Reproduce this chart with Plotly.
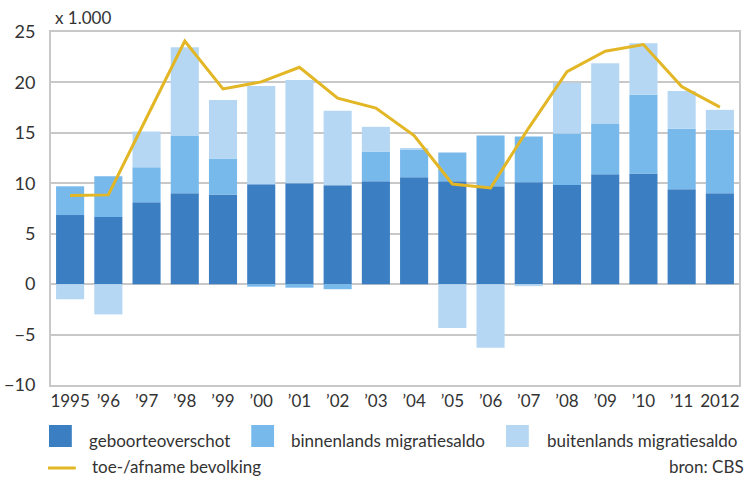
import plotly.graph_objects as go

years = ["1995", "’96", "’97", "’98", "’99", "’00", "’01", "’02", "’03", "’04",
         "’05", "’06", "’07", "’08", "’09", "’10", "’11", "2012"]
geboorteoverschot = [6.85, 6.65, 8.12, 9.0, 8.9, 9.9, 10.0, 9.8, 10.2, 10.6,
                     10.2, 9.7, 10.1, 9.83, 10.89, 10.98, 9.41, 9.01]
binnenlands = [2.85, 4.05, 3.48, 5.7, 3.55, -0.25, -0.35, -0.5, 2.95, 2.75,
               2.85, 5.03, 4.53, 5.1, 5.0, 7.8, 6.0, 6.3]
buitenlands = [-1.5, -3.0, 3.53, 8.8, 5.8, 9.75, 10.25, 7.4, 2.45, 0.1,
               -4.35, -6.3, -0.2, 5.05, 6.0, 5.1, 3.75, 1.97]
toename = [8.8, 8.85, 16.5, 24.1, 19.36, 20.05, 21.5, 18.44, 17.45, 14.73,
           9.93, 9.54, 15.5, 21.07, 23.1, 23.76, 19.59, 17.55]

C_DARK = "#3B7FC2"
C_MID = "#78B9EB"
C_LIGHT = "#B5D7F3"
C_LINE = "#E2B624"
TXT = "#333333"
GRID = "#C8C8C8"
FONT = "Lato"

W, H = 745, 477
L, R, T, B = 47, 4, 32, 92

fig = go.Figure()
fig.add_trace(go.Bar(x=years, y=geboorteoverschot, name="geboorteoverschot",
                     marker=dict(color=C_DARK, line=dict(width=0))))
fig.add_trace(go.Bar(x=years, y=binnenlands, name="binnenlands migratiesaldo",
                     marker=dict(color=C_MID, line=dict(width=0))))
fig.add_trace(go.Bar(x=years, y=buitenlands, name="buitenlands migratiesaldo",
                     marker=dict(color=C_LIGHT, line=dict(width=0))))
fig.add_trace(go.Scatter(x=years, y=toename, name="toe-/afname bevolking",
                         mode="lines", line=dict(color=C_LINE, width=3)))

pw = W - L - R
ph = H - T - B


def px(x):
    return (x - L) / pw


def py(y):
    return (H - B - y) / ph


shapes = []
annotations = []
legend_items = [
    ("rect", C_DARK, 45, 68, 425, 447, "geboorteoverschot", 83, 441),
    ("rect", C_MID, 249, 272, 425, 447, "binnenlands migratiesaldo", 287, 441),
    ("rect", C_LIGHT, 506, 529, 425, 447, "buitenlands migratiesaldo", 545, 441),
    ("line", C_LINE, 44, 72, 468, 468, "toe-/afname bevolking", 86, 466),
]
for kind, col, x0, x1, y0, y1, label, tx, ty in legend_items:
    if kind == "rect":
        shapes.append(dict(type="rect", xref="paper", yref="paper",
                           x0=px(x0), x1=px(x1), y0=py(y1), y1=py(y0),
                           fillcolor=col, line=dict(width=0)))
    else:
        shapes.append(dict(type="line", xref="paper", yref="paper",
                           x0=px(x0), x1=px(x1), y0=py(y0), y1=py(y1),
                           line=dict(color=col, width=3)))
    annotations.append(dict(text=label, xref="paper", yref="paper",
                            x=px(tx), y=py(ty), xanchor="left", yanchor="middle",
                            showarrow=False, font=dict(size=17, color=TXT, family=FONT)))

annotations.append(dict(text="x 1.000", xref="paper", yref="paper",
                        x=px(49), y=py(18), xanchor="left", yanchor="middle",
                        showarrow=False, font=dict(size=17, color=TXT, family=FONT)))
annotations.append(dict(text="bron: CBS", xref="paper", yref="paper",
                        x=px(668), y=py(466), xanchor="left", yanchor="middle",
                        showarrow=False, font=dict(size=17, color=TXT, family=FONT)))

fig.update_layout(
    width=W, height=H,
    margin=dict(l=L, r=R, t=T, b=B),
    barmode="relative",
    bargap=0.265,
    showlegend=False,
    plot_bgcolor="white",
    paper_bgcolor="white",
    font=dict(family=FONT, color=TXT, size=16),
    shapes=shapes,
    annotations=annotations,
)
fig.update_xaxes(showgrid=False, showline=True, linecolor=GRID, linewidth=2,
                 mirror=True, ticks="", tickfont=dict(size=17, color=TXT, family=FONT),
                 fixedrange=True)
fig.update_yaxes(range=[-10, 25], dtick=5, showgrid=True, gridcolor=GRID, gridwidth=2,
                 zeroline=False, showline=True, linecolor=GRID, linewidth=2, mirror=True,
                 ticks="", ticklabelstandoff=10,
                 tickfont=dict(size=18, color=TXT, family=FONT), fixedrange=True)

fig.write_html("out.html", config={"displayModeBar": False},
               post_script="document.body.style.margin='0';document.body.style.overflow='hidden';")
